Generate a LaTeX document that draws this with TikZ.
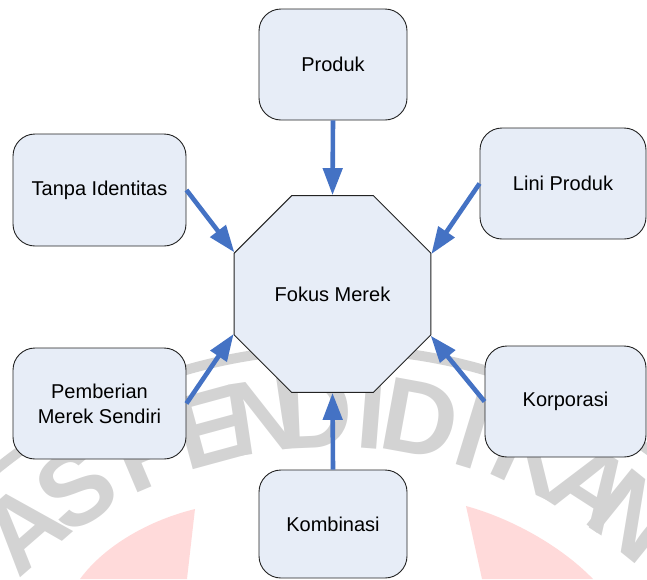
\documentclass[tikz,border=0pt]{standalone}
\usepackage{fontspec}
\setmainfont{Liberation Sans}
\usetikzlibrary{shapes.geometric,arrows.meta}
\definecolor{boxfill}{RGB}{231,237,247}
\definecolor{boxline}{RGB}{35,35,35}
\definecolor{arrowblue}{RGB}{68,114,196}
\definecolor{markgray}{RGB}{211,211,211}
\definecolor{markpink}{RGB}{255,218,218}
\tikzset{
  item/.style={draw=boxline, fill=boxfill, line width=0.9pt, rounded corners=22pt,
    minimum width=148pt, minimum height=111pt, inner sep=0pt, align=center,
    font=\fontsize{20}{25}\selectfont},
  hub/.style={draw=boxline, fill=boxfill, line width=0.9pt, regular polygon,
    regular polygon sides=8, minimum size=213pt, inner sep=0pt,
    font=\fontsize{20}{25}\selectfont},
  feed/.style={draw=arrowblue, line width=4.6pt, -{Triangle[length=27pt,width=19pt]}},
  markletter/.style={text=markgray, inner sep=0pt, font=\fontsize{105}{105}\selectfont\bfseries},
}
\begin{document}
\begin{tikzpicture}[x=1pt,y=-1pt]
\useasboundingbox (0,0) rectangle (647,579);

% faint seal in the background
\begin{scope}
  \clip (0,0) rectangle (647,579);
  \fill[markpink] (195,509) -- (187,579) -- (80,579) .. controls (105,545) and (150,520) .. (195,509) -- cycle;
  \fill[markpink] (466,506) .. controls (510,518) and (560,545) .. (593,579) -- (482,579) -- cycle;
  \draw[markgray, line width=10pt] (335,886) circle (537);
  \foreach \ch/\ang [count=\i] in {A/-41, S/-33, P/-23, E/-15.2, N/-8.5, D/-2.4, I/4.5, D/10.3, I/17, K/24.8, A/32.8, N/38.9}
    \node[markletter, rotate=-\ang] (seal\i) at ({335+475*sin(\ang)}, {886-475*cos(\ang)}) {\ch};
\end{scope}

% outer boxes
\node[item] (produk) at (333,64.5) {Produk};
\node[item, minimum width=173pt, minimum height=112pt] (tanpa) at (99.5,190) {Tanpa Identitas};
\node[item, minimum width=166pt] (lini) at (563,183.5) {Lini Produk};
\node[item, minimum width=173pt] (pemberian) at (99.5,403.5) {Pemberian\\Merek Sendiri};
\node[item, minimum width=161pt] (korporasi) at (565.5,401.5) {Korporasi};
\node[item, minimum height=108pt] (kombinasi) at (333,524) {Kombinasi};

% central octagon
\node[hub] (fokus) at (332.5,294) {Fokus Merek};

% arrows into the centre
\draw[feed] (produk.south) -- (fokus.north);
\draw[feed] (tanpa.east) -- (fokus.157.5);
\draw[feed] (lini.west) -- (fokus.22.5);
\draw[feed] (pemberian.east) -- (fokus.202.5);
\draw[feed] (korporasi.west) -- (fokus.337.5);
\draw[feed] (kombinasi.north) -- (fokus.south);
\end{tikzpicture}
\end{document}
